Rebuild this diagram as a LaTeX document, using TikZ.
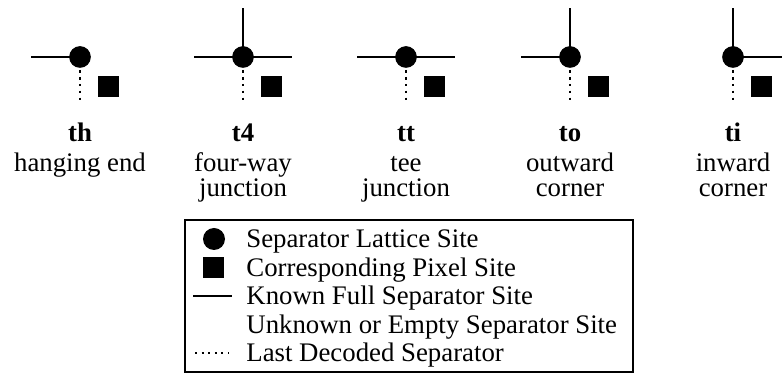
\documentclass[tikz,border=0pt]{standalone}
\usepackage{fontspec}
\setmainfont{Liberation Serif}
\begin{document}
\begin{tikzpicture}[x=0.5pt,y=-0.5pt,
  arm/.style={line width=1.35pt},
  site/.style={circle,fill=black,inner sep=0pt,minimum size=10.85pt},
  pixel/.style={fill=black,inner sep=0pt,minimum size=10.5pt},
  lastsep/.style={line width=1.35pt,dash pattern=on 1.35pt off 2.1pt},
  lastsepkey/.style={line width=1pt,dash pattern=on 1pt off 2.3pt},
  lbl/.style={font=\fontsize{13.4pt}{14.25pt}\selectfont,inner sep=0pt},
  casename/.style={lbl,font=\fontsize{13.4pt}{14.25pt}\selectfont\bfseries,anchor=base},
  casetext/.style={lbl,anchor=base},
  keytext/.style={lbl,anchor=base west},
  legendbox/.style={line width=1pt}]
\useasboundingbox (0,0) rectangle (783,373);

% the five junction types: lattice site, its arms, last separator and pixel
\foreach \n/\x/\L/\R/\U in {th/80/1/0/0, t4/243/1/1/1, tt/406/1/1/0, to/570/1/0/1, ti/733/0/1/1}{
  \coordinate (\n-w) at (\x-49,57);
  \coordinate (\n-e) at (\x+49,57);
  \coordinate (\n-n) at (\x,8);
  \coordinate (\n-d0) at (\x,70);
  \coordinate (\n-d1) at (\x,104);
  \ifnum\L=1 \draw[arm] (\x,57) -- (\n-w); \fi
  \ifnum\R=1 \draw[arm] (\x,57) -- (\n-e); \fi
  \ifnum\U=1 \draw[arm] (\x,57) -- (\n-n); \fi
  \draw[lastsep] (\n-d0) -- (\n-d1);
  \node[site] (\n) at (\x,57) {};
  \node[pixel] (\n-px) at (\x+28.5,86.5) {};
}

% captions
\node[casename] (th-name) at (80,142) {th};
\node[casetext] (th-l1) at (80,172) {hanging end};

\node[casename] (t4-name) at (243,142) {t4};
\node[casetext] (t4-l1) at (243,172) {four-way};
\node[casetext] (t4-l2) at (243,196.5) {junction};

\node[casename] (tt-name) at (406,142) {tt};
\node[casetext] (tt-l1) at (406,172) {tee};
\node[casetext] (tt-l2) at (406,196.5) {junction};

\node[casename] (to-name) at (570,142) {to};
\node[casetext] (to-l1) at (570,172) {outward};
\node[casetext] (to-l2) at (570,196.5) {corner};

\node[casename] (ti-name) at (733,142) {ti};
\node[casetext] (ti-l1) at (733,172) {inward};
\node[casetext] (ti-l2) at (733,196.5) {corner};

% legend
\draw[legendbox] (185,220) rectangle (633,372.5);
\node[site,minimum size=11pt] (key-site) at (214,239) {};
\node[pixel] (key-px) at (213.5,267.5) {};
\coordinate (key-full0) at (193,296);
\coordinate (key-full1) at (232,296);
\draw[arm] (key-full0) -- (key-full1);
\coordinate (key-last0) at (195,353);
\coordinate (key-last1) at (229,353);
\draw[lastsepkey] (key-last0) -- (key-last1);

\node[keytext] (key-t1) at (246,248) {Separator Lattice Site};
\node[keytext] (key-t2) at (246,276.5) {Corresponding Pixel Site};
\node[keytext] (key-t3) at (246,305) {Known Full Separator Site};
\node[keytext] (key-t4) at (246,333.5) {Unknown or Empty Separator Site};
\node[keytext] (key-t5) at (246,362) {Last Decoded Separator};
\end{tikzpicture}
\end{document}
